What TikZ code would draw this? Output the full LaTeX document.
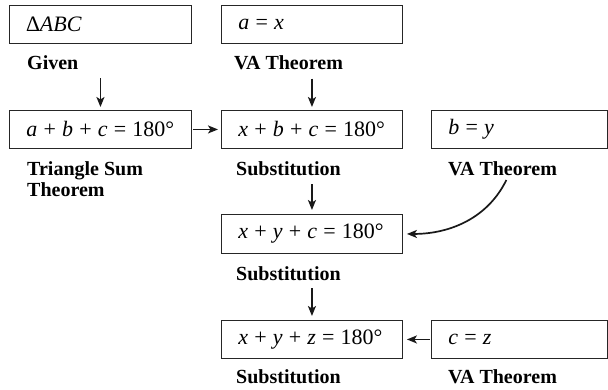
\documentclass[tikz,border=0pt]{standalone}
\usepackage{fontspec}
\setmainfont{Liberation Serif}
\usetikzlibrary{arrows.meta}
\newcommand\gs{\hspace{0.28em}}
\tikzset{
  box/.style={draw=black!85, line width=0.9pt, anchor=north west, minimum height=38pt,
    inner xsep=17pt, inner ysep=0pt, align=left, text width=#1,
    font=\fontsize{22}{24}\selectfont},
  lbl/.style={anchor=base west, inner sep=0pt, align=left,
    font=\bfseries\fontsize{20}{21}\selectfont},
  arr/.style={-{Stealth[length=10pt,width=8pt,inset=2.5pt]}, line width=1.7pt, draw=black!90}
}
\begin{document}
\begin{tikzpicture}[x=1pt,y=-1pt]
\useasboundingbox (0,0) rectangle (608,389);
% boxes
\node[box=148pt] (A) at (9,5)   {\char"2206\textit{ABC}};
\node[box=147pt] (B) at (221,5) {\textit{a}\gs=\gs\textit{x}};
\node[box=148pt] (C) at (9,110) {\textit{a}\gs+\gs\textit{b}\gs+\gs\textit{c}\gs=\gs180°};
\node[box=147pt] (D) at (221,110) {\textit{x}\gs+\gs\textit{b}\gs+\gs\textit{c}\gs=\gs180°};
\node[box=142pt] (E) at (431,110) {\textit{b}\gs=\gs\textit{y}};
\node[box=147pt, minimum height=39pt] (F) at (221,214) {\textit{x}\gs+\gs\textit{y}\gs+\gs\textit{c}\gs=\gs180°};
\node[box=147pt] (G) at (221,320) {\textit{x}\gs+\gs\textit{y}\gs+\gs\textit{z}\gs=\gs180°};
\node[box=142pt] (H) at (431,320) {\textit{c}\gs=\gs\textit{z}};
% labels
\node[lbl] (lA) at (27,69)  {Given};
\node[lbl] (lB) at (234,69) {VA Theorem};
\node[lbl] (lC) at (27,196) {Triangle Sum\\Theorem};
\node[lbl] (lD) at (236,175) {Substitution};
\node[lbl] (lE) at (448,175) {VA Theorem};
\node[lbl] (lF) at (236,280) {Substitution};
\node[lbl] (lG) at (236,383) {Substitution};
\node[lbl] (lH) at (448,383) {VA Theorem};
% arrows
\draw[arr, shorten <=9pt, shorten >=3pt] (lA.south -| C.north) -- (C.north);
\draw[arr, shorten <=9pt, shorten >=3pt] (lB.south -| D.north) -- (D.north);
\draw[arr, shorten <=1pt, shorten >=3pt] (C.east) -- (D.west);
\draw[arr, shorten <=9pt, shorten >=4pt] (lD.south -| F.north) -- (F.north);
\draw[arr, shorten <=8pt, shorten >=4pt] (lF.south -| G.north) -- (G.north);
\draw[arr, shorten <=5pt, shorten >=4pt] ([xshift=6pt]lE.south) to[out=-116,in=0] (F.east);
\draw[arr, shorten <=1pt, shorten >=4pt] (H.west) -- (G.east);
\end{tikzpicture}
\end{document}
